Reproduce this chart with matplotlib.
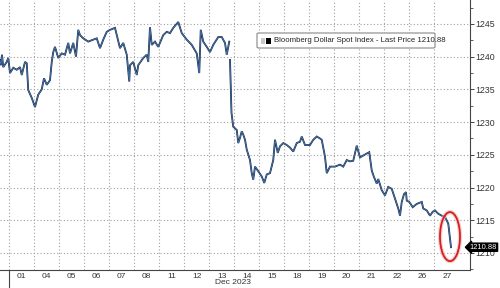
import numpy as np
import matplotlib
matplotlib.use("Agg")
import matplotlib.pyplot as plt
import matplotlib.transforms as mtransforms
from matplotlib.patches import Ellipse, FancyBboxPatch
from matplotlib.ticker import FixedLocator, MultipleLocator

plt.rcParams["font.family"] = ["Liberation Sans", "DejaVu Sans"]

# trading-day position (0 = 30 Nov, 1 = 01 Dec, ...) and index level
t_before = [0.63, 0.67, 0.71, 0.76, 0.90, 0.96, 1.03, 1.16, 1.30, 1.43, 1.50, 1.63,
            1.70, 1.76, 1.90, 2.03, 2.16, 2.30, 2.39, 2.50, 2.63, 2.70, 2.76, 2.83,
            2.96, 3.10, 3.23, 3.36, 3.43, 3.56, 3.67, 3.76, 3.83, 3.96, 4.16, 4.36,
            4.50, 4.63, 4.76, 4.90, 5.03, 5.23, 5.32, 5.43, 5.56, 5.70, 5.80, 5.83,
            5.96, 6.10, 6.16, 6.36, 6.50, 6.56, 6.63, 6.70, 6.83, 6.96, 7.16, 7.30,
            7.43, 7.56, 7.76, 7.90, 8.10, 8.30, 8.50, 8.60, 8.66, 8.76, 8.90, 9.03,
            9.16, 9.36, 9.50, 9.63, 9.70, 9.80]
v_before = [1239.5, 1238.7, 1240.3, 1238.4, 1239.2, 1239.8, 1237.5, 1238.3, 1238.0, 1238.4,
            1237.2, 1239.2, 1239.0, 1234.9, 1233.7, 1232.3, 1234.2, 1235.0, 1236.7, 1235.7,
            1236.4, 1239.2, 1240.7, 1241.5, 1239.8, 1240.5, 1240.3, 1242.1, 1240.5, 1242.1,
            1240.0, 1244.1, 1243.3, 1242.8, 1242.3, 1242.6, 1242.8, 1241.3, 1242.6, 1243.8,
            1244.1, 1244.4, 1243.0, 1241.3, 1242.1, 1240.3, 1236.2, 1238.7, 1239.2, 1237.2,
            1238.7, 1239.8, 1240.3, 1239.2, 1244.5, 1241.8, 1242.3, 1241.5, 1243.3, 1243.8,
            1243.6, 1244.4, 1245.3, 1243.6, 1242.6, 1241.8, 1240.5, 1237.5, 1244.1, 1242.3,
            1241.5, 1240.7, 1241.8, 1243.0, 1243.0, 1242.1, 1240.3, 1242.3]

t_after = [9.83, 9.89, 9.96, 10.10, 10.16, 10.23, 10.30, 10.36, 10.43, 10.50, 10.63, 10.70,
           10.76, 10.83, 10.96, 11.10, 11.20, 11.30, 11.43, 11.56, 11.63, 11.74, 11.83, 11.96,
           12.10, 12.23, 12.36, 12.50, 12.63, 12.70, 12.83, 13.03, 13.16, 13.30, 13.43, 13.50,
           13.63, 13.70, 13.83, 14.03, 14.23, 14.36, 14.50, 14.63, 14.76, 14.90, 15.03, 15.16,
           15.30, 15.40, 15.50, 15.59, 15.70, 15.76, 15.90, 16.03, 16.16, 16.30, 16.43, 16.56,
           16.63, 16.70, 16.79, 16.87, 16.90, 17.00, 17.14, 17.30, 17.50, 17.56, 17.70, 17.83,
           17.94, 18.03, 18.16, 18.30, 18.43, 18.56, 18.67]
v_after = [1239.5, 1231.4, 1229.3, 1228.8, 1226.8, 1227.6, 1228.6, 1228.1, 1227.3, 1225.8,
           1224.2, 1222.2, 1221.2, 1223.2, 1222.5, 1221.7, 1220.7, 1222.0, 1222.2, 1224.2,
           1227.3, 1225.3, 1226.3, 1226.8, 1226.5, 1226.1, 1225.5, 1226.8, 1227.0, 1227.8,
           1226.5, 1226.5, 1227.3, 1227.8, 1227.5, 1227.3, 1224.7, 1222.2, 1223.2, 1223.2,
           1223.5, 1223.2, 1224.2, 1224.0, 1224.1, 1226.4, 1224.6, 1224.9, 1225.2, 1225.4,
           1222.6, 1221.6, 1220.6, 1221.3, 1219.6, 1218.8, 1220.1, 1219.8, 1218.3, 1216.8,
           1215.7, 1217.8, 1219.0, 1219.3, 1218.0, 1217.8, 1217.0, 1217.5, 1217.8, 1216.8,
           1216.5, 1215.7, 1216.3, 1216.5, 1216.0, 1215.7, 1215.5, 1214.5, 1210.88]

day_labels = ["01", "04", "05", "06", "07", "08", "11", "12", "13", "14",
              "15", "18", "19", "20", "21", "22", "26", "27"]
y_ticks = [1210, 1215, 1220, 1225, 1230, 1235, 1240, 1245]
last_price = 1210.88

fig = plt.figure(figsize=(5.0, 2.88), dpi=100)
ax = fig.add_axes([0.0, 18 / 288, 470 / 500, 270 / 288])

for tt, vv in [(t_before, v_before), (t_after, v_after)]:
    ax.plot(tt, vv, color="#1b2740", lw=1.3, solid_joinstyle="miter", zorder=3)
    ax.plot(tt, vv, color="#4a86c8", lw=0.5, zorder=4)

ax.set_xlim(0.63, 19.43)
ax.set_ylim(1207.4, 1248.66)

# grid
for y in y_ticks:
    ax.axhline(y, color="#a0a0a0", lw=0.8, ls=(0, (1, 2)), zorder=1)
for d in range(1, 19):
    ax.axvline(d, color="#a0a0a0", lw=0.8, ls=(0, (1, 2)), zorder=1)

# spines
for s in ["top", "left"]:
    ax.spines[s].set_visible(False)
for s in ["right", "bottom"]:
    ax.spines[s].set_color("#444444")
    ax.spines[s].set_linewidth(0.8)

# y axis on the right
ax.yaxis.tick_right()
ax.set_yticks(y_ticks)
ax.yaxis.set_minor_locator(MultipleLocator(2.5))
ax.tick_params(axis="y", which="major", length=3, width=0.7, color="#444444",
               labelsize=6.3, labelcolor="#333333", pad=1)
ax.tick_params(axis="y", which="minor", length=2, width=0.6, color="#444444")

# x axis: day labels centred in slots, month boundary tick
ax.xaxis.set_major_locator(FixedLocator([1]))
ax.xaxis.set_major_formatter(plt.NullFormatter())
ax.tick_params(axis="x", which="major", length=18, width=0.8, color="#444444")
ax.set_xticks([d + 1.5 for d in range(len(day_labels))], day_labels, minor=True)
ax.tick_params(axis="x", which="minor", length=0, labelsize=6,
               labelcolor="#333333", pad=2)
fig.text(233 / 500, 5 / 288, "Dec 2023", fontsize=6, color="#333333",
         ha="center", va="center")

# legend box
leg = FancyBboxPatch((257 / 500, 1 - 48 / 288), 178 / 500, 15 / 288,
                     boxstyle="round,pad=0,rounding_size=0.004",
                     transform=fig.transFigure, facecolor="white",
                     edgecolor="#888888", lw=0.8, zorder=10)
fig.patches.append(leg)
fig.patches.append(FancyBboxPatch((261 / 500, 1 - 43.5 / 288), 4 / 500, 5 / 288,
                                  boxstyle="square,pad=0", transform=fig.transFigure,
                                  facecolor="#c8c8c8", edgecolor="none", zorder=11))
fig.patches.append(FancyBboxPatch((266 / 500, 1 - 44 / 288), 5 / 500, 6 / 288,
                                  boxstyle="square,pad=0", transform=fig.transFigure,
                                  facecolor="black", edgecolor="none", zorder=11))
fig.text(274 / 500, 1 - 41 / 288, "Bloomberg Dollar Spot Index - Last Price 1210.88",
         fontsize=5.6, color="#222222", ha="left", va="center", zorder=12)

# last price tag, right-aligned to the figure edge
tag_tr = mtransforms.blended_transform_factory(fig.transFigure, ax.transData)
ax.text(497 / 500, last_price, f"{last_price:.2f}", transform=tag_tr,
        fontsize=5.4, color="white", ha="right", va="center",
        bbox=dict(boxstyle="larrow,pad=0.08", facecolor="black", edgecolor="black"),
        clip_on=False, zorder=12)

# red circle around the final drop
ax.add_patch(Ellipse((18.63, 1212.5), 0.8, 7.5, facecolor="none",
                     edgecolor="#f2b0b0", lw=3.0, alpha=0.6, zorder=5))
ax.add_patch(Ellipse((18.63, 1212.5), 0.8, 7.5, facecolor="none",
                     edgecolor="#d61f1f", lw=1.3, zorder=6))

fig.savefig("out.png", dpi=100)
